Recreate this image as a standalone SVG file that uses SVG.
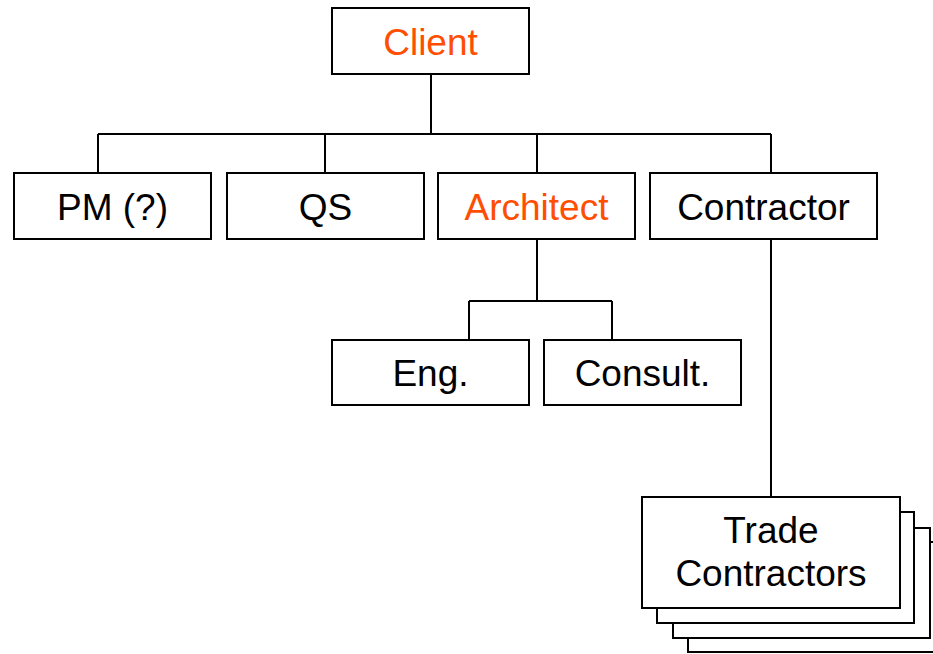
<svg xmlns="http://www.w3.org/2000/svg" width="933" height="654" viewBox="0 0 933 654">
<style>
.box{fill:#fff;stroke:#000;stroke-width:2}
.t{font-family:"Liberation Sans",Arial,sans-serif;font-size:37px;text-anchor:middle;fill:#000}
.o{fill:#FF4E00}
.c{fill:none;stroke:#000;stroke-width:2}
</style>
<rect width="933" height="654" fill="#fff"/>
<g id="connectors">
<path class="c" d="M431 74V134M98 134H771M98 134V173M325 134V173M537 134V173M771 134V173"/>
<path class="c" d="M537 239V301M469 301H612M469 301V340M612 301V340"/>
<path class="c" d="M771 239V497"/>
</g>
<g id="client"><rect class="box" x="332" y="8" width="197" height="66"/><text class="t o" x="430.5" y="55">Client</text></g>
<g id="pm"><rect class="box" x="14" y="173" width="197" height="66"/><text class="t" x="112.5" y="220">PM (?)</text></g>
<g id="qs"><rect class="box" x="227" y="173" width="197" height="66"/><text class="t" x="325.5" y="220">QS</text></g>
<g id="architect"><rect class="box" x="438" y="173" width="197" height="66"/><text class="t o" x="536.5" y="220">Architect</text></g>
<g id="contractor"><rect class="box" x="650" y="173" width="227" height="66"/><text class="t" x="763.5" y="220">Contractor</text></g>
<g id="eng"><rect class="box" x="332" y="340" width="197" height="65"/><text class="t" x="430.5" y="386">Eng.</text></g>
<g id="consult"><rect class="box" x="544" y="340" width="197" height="65"/><text class="t" x="642.5" y="386">Consult.</text></g>
<g id="trade">
<rect class="box" x="688" y="542" width="260" height="110"/>
<rect class="box" x="673" y="528" width="257" height="110"/>
<rect class="box" x="657" y="512" width="257" height="111"/>
<rect class="box" x="642" y="497" width="258" height="111"/>
<text class="t" x="771" y="543">Trade</text>
<text class="t" x="771" y="586">Contractors</text>
</g>
</svg>
